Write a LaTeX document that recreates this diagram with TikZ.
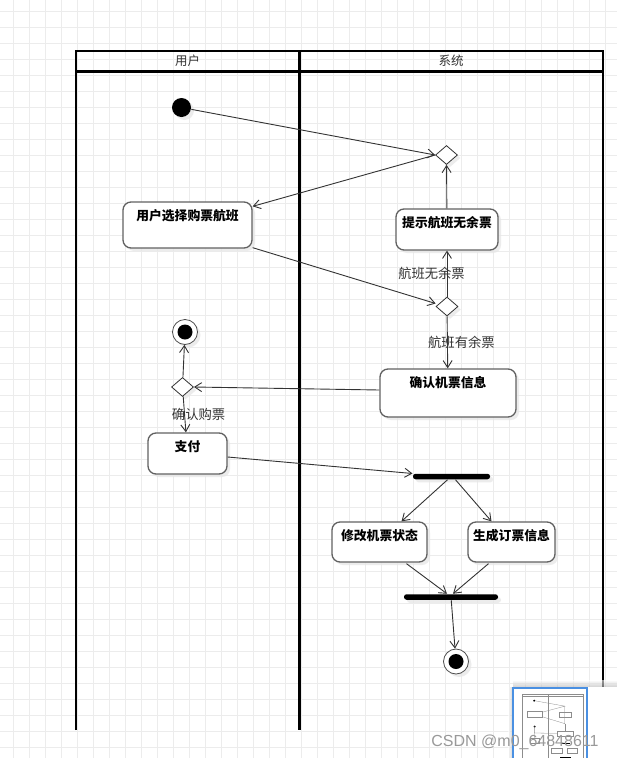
\documentclass[tikz,border=0pt]{standalone}
\usepackage{fontspec}
\usepackage{tikz}
\usetikzlibrary{shapes.geometric, arrows.meta, shadows}
\newfontfamily\cjk{Noto Sans CJK SC}
\newfontfamily\wmfont{Liberation Sans}
\definecolor{gridgray}{HTML}{ECECEC}
\definecolor{viewblue}{HTML}{4A90E2}
\tikzset{every picture/.style={line width=1pt}}

\begin{document}
\begin{tikzpicture}[x=1pt, y=-1pt, >={Straight Barb[length=7pt,width=9pt]},
        gshadow/.style={drop shadow={shadow xshift=3pt, shadow yshift=-3pt, fill=black!10, opacity=0.7}},
        action/.style={draw=black!62, line width=1.3pt, rounded corners=8pt, fill=white, gshadow,
            inner sep=0pt, text height=18pt, text depth=#1, font=\cjk\bfseries\fontsize{12.8pt}{15pt}\selectfont},
        action/.default=22pt,
        choice/.style={diamond, draw=black!80, line width=0.8pt, fill=white, gshadow, inner sep=0pt,
            minimum width=22pt, minimum height=19pt},
        syncbar/.style={fill=black, rounded corners=2.5pt, gshadow, minimum height=5.5pt, inner sep=0pt},
        startdot/.style={circle, fill=black, gshadow, minimum size=19pt, inner sep=0pt},
        enddot/.style={circle, draw=black!70, fill=white, line width=0.8pt, gshadow, minimum size=25pt, inner sep=0pt,
            path picture={\fill[black] (path picture bounding box.center) circle (7.5pt);}},
        flow/.style={->, color=black!80, line width=0.9pt},
        guard/.style={font=\cjk\fontsize{13.3pt}{15pt}\selectfont, text=black!80},
        lane/.style={line width=2.5pt, draw=black},
        lanetitle/.style={font=\cjk\fontsize{12.5pt}{15pt}\selectfont, text=black!80},
        gridline/.style={draw=gridgray, line width=1pt},
        thumb/.style={draw=black!45, line width=0.3pt}]
    \useasboundingbox (0,0) rectangle (617,758);
    \fill[white] (0,0) rectangle (617,758);

    % background grid
    \foreach \gx in {13,29,...,605}
        \draw[gridline] (\gx,0) -- (\gx,758);
    \foreach \gy in {11,27,...,747}
        \draw[gridline] (0,\gy) -- (617,\gy);

    % swimlanes
    \draw[lane] (76,730) -- (76,51) -- (603,51) -- (603,730);
    \draw[lane] (76,71.5) -- (603,71.5);
    \draw[lane] (299.5,51) -- (299.5,730);
    \node[lanetitle] (userlane) at (187.5,61) {用户};
    \node[lanetitle] (syslane) at (451,61) {系统};

    % activity nodes
    \node[startdot] (start) at (181.5,107.5) {};
    \node[choice] (d1) at (446.5,155) {};
    \node[action=28pt, minimum width=129pt] (choose) at (187.5,225) {用户选择购票航班};
    \node[action=23pt, minimum width=102pt] (notice) at (447,229.5) {提示航班无余票};
    \node[choice] (d2) at (447,306.5) {};
    \node[action=30pt, minimum width=136pt] (confirm) at (448,393) {确认机票信息};
    \node[enddot] (end1) at (185,332) {};
    \node[choice] (d3) at (182.5,387) {};
    \node[action=23pt, minimum width=79pt] (pay) at (187.5,453.5) {支付};
    \node[syncbar, minimum width=77pt] (fork) at (451.5,476.5) {};
    \node[action=22pt, minimum width=95pt] (modify) at (379.5,542) {修改机票状态};
    \node[action=22pt, minimum width=87pt] (order) at (511.5,542) {生成订票信息};
    \node[syncbar, minimum width=94pt] (join) at (451,597) {};
    \node[enddot] (end2) at (456,661.5) {};

    \path[flow]
        (start) edge (d1.west)
        (d1.west) edge ([yshift=-5pt]choose.north east)
        ([yshift=1pt]choose.south east) edge ([yshift=3pt]d2.west)
        (d2) edge node[guard, xshift=-15.5pt]{航班无余票} (notice)
        (notice) edge (d1)
        (d2) edge node[guard, xshift=14pt]{航班有余票} (confirm)
        ([yshift=3pt]confirm.west) edge (d3.east)
        (d3) edge (end1)
        (d3) edge node[guard, xshift=14pt]{确认购票} (pay)
        ([yshift=-3.5pt]pay.east) edge ([yshift=3pt]fork.west)
        ([xshift=-4pt]fork.south) edge ([xshift=22pt]modify.north)
        ([xshift=4pt]fork.south) edge ([xshift=-20pt]order.north)
        ([xshift=27pt,yshift=-1pt]modify.south) edge ([xshift=-4pt]join.north)
        ([xshift=-23pt,yshift=-1pt]order.south) edge ([xshift=2pt]join.north)
        (join) edge (end2)
        ;

    % overview panel
    \shade[top color=white, bottom color=black!30, opacity=0.6] (513,680) rectangle (617,687);
    \shade[left color=white, right color=black!30, opacity=0.6] (508,687) rectangle (513,758);
    \fill[white] (513,687) rectangle (617,758);
    \begin{scope}[shift={(522,694)}, scale=0.1157, shift={(-76,-50)}]
        \draw[thumb] (76,760) -- (76,51) -- (603,51) -- (603,760);
        \draw[thumb] (76,71.5) -- (603,71.5);
        \draw[thumb] (299.5,51) -- (299.5,760);
        \fill[black] (181.5,107.5) circle (9.5);
        \fill[black] (185,332) circle (9);
        \draw[thumb] (123,202) rectangle (252,248);
        \draw[thumb] (396,209) rectangle (498,250);
        \draw[thumb] (380,369) rectangle (516,417);
        \draw[thumb] (148,433) rectangle (227,474);
        \draw[thumb] (332,522) rectangle (427,562);
        \draw[thumb] (468,522) rectangle (555,562);
        \draw[thumb] (190,109) -- (446,155) -- (252,207);
        \draw[thumb] (252,247) -- (446,306) -- (446,155);
        \draw[thumb] (446,306) -- (446,369);
        \draw[thumb] (380,390) -- (183,387) -- (183,332);
        \draw[thumb] (183,387) -- (186,433);
        \fill[black] (413,474) rectangle (490,479);
        \fill[black] (404,594) rectangle (498,600);
    \end{scope}
    \draw[draw=viewblue, line width=1.3pt] (513,688) rectangle (587,762);

    % watermark
    \node[font=\wmfont\fontsize{16pt}{18pt}\selectfont, text=black!40, anchor=base] (mark) at (515,746) {CSDN @m0\_64848611};
\end{tikzpicture}
\end{document}
